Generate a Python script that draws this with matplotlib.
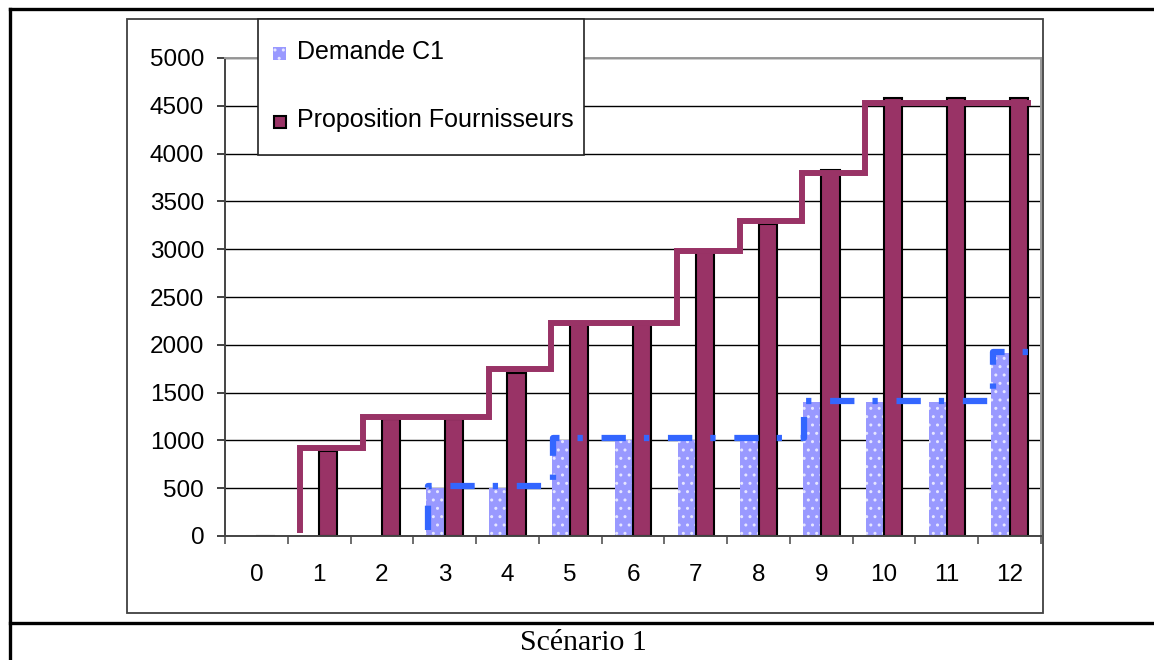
import numpy as np
import matplotlib
matplotlib.use("Agg")
import matplotlib.pyplot as plt
from matplotlib.patches import Rectangle
from matplotlib.lines import Line2D

# données
mois = list(range(13))
demande = [0, 0, 0, 500, 500, 1000, 1000, 1000, 1000, 1400, 1400, 1400, 1910]
proposition = [0, 890, 1220, 1220, 1710, 2220, 2220, 2970, 3260, 3830, 4580, 4580, 4580]

# paliers (courbes en escalier) à partir du mois 1 et du mois 3
palier_fourn = [920, 1250, 1250, 1750, 2230, 2230, 2980, 3300, 3800, 4530, 4530, 4530]
palier_dem = [520, 520, 1020, 1020, 1020, 1020, 1415, 1415, 1415, 1925]

yticks = list(range(0, 5001, 500))

plt.rcParams['font.family'] = ['Liberation Sans', 'DejaVu Sans']
plt.rcParams['hatch.linewidth'] = 1.0
plt.rcParams['lines.scale_dashes'] = False

W, H = 1154, 660
fig = plt.figure(figsize=(W / 100, H / 100), dpi=100)


def fx(x):
    return x / W


def fy(y):
    return 1 - y / H


# cadre du tableau
for (x0, y0, x1, y1) in [(10, 9, W, 9), (10, 9, 10, H), (10, 623, W, 623)]:
    fig.add_artist(Line2D([fx(x0), fx(x1)], [fy(y0), fy(y1)], color='black', lw=2.4))

# cadre du graphique
fig.add_artist(Rectangle((fx(127), fy(613)), fx(1043 - 127), (613 - 19) / H,
                         fill=False, edgecolor='#404040', lw=1.3, zorder=0))

ax = fig.add_axes([fx(225), fy(536), fx(1041 - 225), (536 - 58) / H])

w = 0.29
x = np.array(mois)
ax.bar(x - w / 2, demande, width=w, color='#9999FF', edgecolor='#E6E6FF', lw=0,
       hatch='..', zorder=2)
ax.bar(x + w / 2, proposition, width=w, color='#993366', edgecolor='black', lw=1.5,
       zorder=2)

# escalier fournisseurs
xs = np.append(np.arange(1, 13) - 0.3, 12.3)
ys = np.append(palier_fourn, palier_fourn[-1])
ax.plot(np.insert(xs, 0, xs[0]), np.insert(ys, 0, 60), drawstyle='steps-post',
        color='#993366', lw=4.3, solid_joinstyle='miter', zorder=3)

# escalier demande
xd = np.append(np.arange(3, 13) - 0.27, 12.48)
yd = np.append(palier_dem, palier_dem[-1])
ax.plot(np.insert(xd, 0, xd[0]), np.insert(yd, 0, 60), drawstyle='steps-post',
        color='#3366FF', lw=4.5, dash_capstyle='butt',
        dashes=(17.5, 13, 3.8, 13.5), zorder=4)

ax.set_xlim(-0.5, 12.5)
ax.set_ylim(0, 5000)
ax.set_yticks(yticks)
ax.set_yticklabels([str(v) for v in yticks])
ax.set_xticks(x)
ax.set_xticklabels([str(m) for m in mois])
ax.set_xticks(np.arange(-0.5, 13, 1), minor=True)
ax.tick_params(axis='x', which='major', length=0, pad=20, labelsize=17.5)
ax.tick_params(axis='x', which='minor', length=6, width=1.2, color='#555555')
ax.tick_params(axis='y', length=6, width=1.2, color='#222222', pad=9, labelsize=17.5)

ax.set_axisbelow(True)
ax.yaxis.grid(True, color='black', lw=1.0)
for s in ['top', 'right']:
    ax.spines[s].set_color('#999999')
    ax.spines[s].set_linewidth(1.4)
for s in ['left', 'bottom']:
    ax.spines[s].set_color('#444444')
    ax.spines[s].set_linewidth(1.4)

# légende
fig.add_artist(Rectangle((fx(258), fy(155)), fx(584 - 258), (155 - 19) / H,
                         facecolor='white', edgecolor='#222222', lw=1.2, zorder=5))
fig.add_artist(Rectangle((fx(273), fy(60)), fx(13), 13 / H, facecolor='#9999FF',
                         edgecolor='#E6E6FF', lw=0, hatch='..', zorder=6))
fig.add_artist(Rectangle((fx(274), fy(128)), fx(12), 12 / H, facecolor='#993366',
                         edgecolor='black', lw=1.5, zorder=6))
fig.text(fx(297), fy(52), 'Demande C1', fontsize=18, va='center', ha='left', zorder=7)
fig.text(fx(297), fy(120), 'Proposition Fournisseurs', fontsize=18, va='center',
         ha='left', zorder=7)

fig.text(fx(583), fy(643), 'Scénario 1', fontsize=21.5, family='Liberation Serif',
         ha='center', va='center')

fig.savefig('out.png', dpi=100)
